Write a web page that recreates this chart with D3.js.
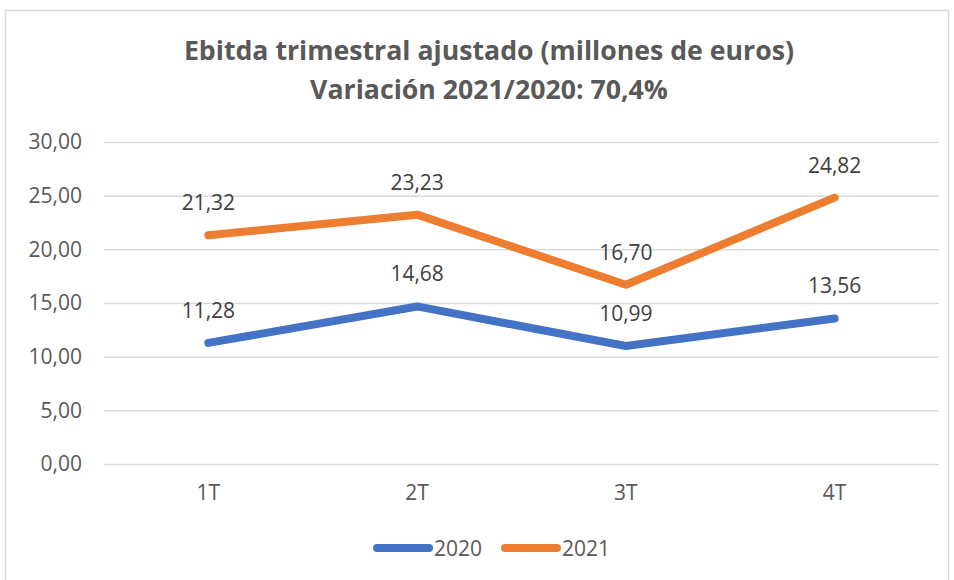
<!DOCTYPE html>
<html lang="es">
<head>
  <meta charset="UTF-8">
  <title>Ebitda trimestral</title>
  <script src="https://d3js.org/d3.v7.min.js"></script>
  <style>
    body { margin: 0; background: #fff; }
    text { font-family: "Open Sans", "Noto Sans", sans-serif; }
  </style>
</head>
<body>
  <svg id="chart"></svg>
  <script>
    const quarters = ["1T", "2T", "3T", "4T"];
    const values2020 = [11.28, 14.68, 10.99, 13.56];
    const values2021 = [21.32, 23.23, 16.70, 24.82];
    const yTicks = [0, 5, 10, 15, 20, 25, 30];
    const titleLines = ["Ebitda trimestral ajustado (millones de euros)", "Variación 2021/2020: 70,4%"];

    const series = [
      {name: "2020", values: values2020, color: "#4472C4"},
      {name: "2021", values: values2021, color: "#ED7D31"}
    ];

    const W = 954, H = 580;
    const margin = {top: 142, right: 15, bottom: 116, left: 104};
    const width = W - margin.left - margin.right,
          height = H - margin.top - margin.bottom;

    const svg = d3.select("#chart").attr("width", W).attr("height", H);

    // chart frame
    svg.append("rect")
      .attr("x", 5.5).attr("y", 10.5)
      .attr("width", 943).attr("height", 580)
      .attr("fill", "#fff").attr("stroke", "#D9D9D9").attr("stroke-width", 1.5);

    svg.selectAll(".title")
      .data(titleLines)
      .join("text")
      .attr("class", "title")
      .attr("x", 489).attr("y", (d, i) => 59.5 + i * 39.5)
      .attr("text-anchor", "middle")
      .attr("font-size", 26.7).attr("font-weight", "bold")
      .attr("fill", "#595959")
      .text(d => d);

    const g = svg.append("g").attr("transform", `translate(${margin.left},${margin.top})`);

    const x = d3.scaleBand().domain(quarters).range([0, width]);
    const y = d3.scaleLinear().domain([0, 30]).range([height, 0]);
    const fmt = v => d3.format(".2f")(v).replace(".", ",");

    const yAxis = d3.axisLeft(y).tickValues(yTicks).tickSize(-width).tickFormat(fmt).tickPadding(22);
    g.append("g").call(yAxis)
      .call(a => a.select(".domain").remove())
      .call(a => a.selectAll("line").attr("stroke", "#D9D9D9").attr("stroke-width", 1.5))
      .call(a => a.selectAll("text").attr("font-size", 21).attr("fill", "#595959")
        .style("font-family", "'Open Sans', sans-serif"));

    const xAxis = d3.axisBottom(x).tickSize(0).tickPadding(21);
    g.append("g").attr("transform", `translate(0,${height})`).call(xAxis)
      .call(a => a.select(".domain").remove())
      .call(a => a.selectAll("text").attr("font-size", 21).attr("fill", "#595959")
        .style("font-family", "'Open Sans', sans-serif"));

    const line = d3.line()
      .x((d, i) => x(quarters[i]) + x.bandwidth() / 2)
      .y(d => y(d));

    series.forEach(s => {
      g.append("path")
        .attr("d", line(s.values))
        .attr("fill", "none")
        .attr("stroke", s.color)
        .attr("stroke-width", 8)
        .attr("stroke-linecap", "round")
        .attr("stroke-linejoin", "round");

      g.selectAll(null)
        .data(s.values)
        .join("text")
        .attr("x", (d, i) => x(quarters[i]) + x.bandwidth() / 2)
        .attr("y", d => y(d) - 25)
        .attr("text-anchor", "middle")
        .attr("font-size", 21)
        .attr("fill", "#404040")
        .text(d => fmt(d));
    });

    // legend
    const legend = svg.append("g").attr("transform", "translate(377,548)");
    const item = legend.selectAll("g")
      .data(series)
      .join("g")
      .attr("transform", (d, i) => `translate(${i * 128},0)`);
    item.append("line")
      .attr("x1", 0).attr("x2", 52)
      .attr("stroke", d => d.color).attr("stroke-width", 8)
      .attr("stroke-linecap", "round");
    item.append("text")
      .attr("x", 57).attr("y", 8)
      .attr("font-size", 21).attr("fill", "#595959")
      .text(d => d.name);
  </script>
</body>
</html>
